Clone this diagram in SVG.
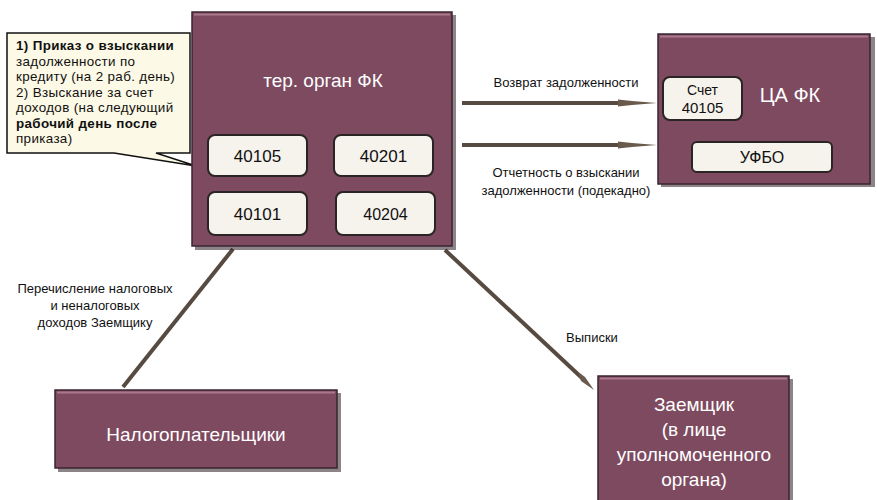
<svg xmlns="http://www.w3.org/2000/svg" width="877" height="500" viewBox="0 0 877 500">
<defs>
<style>
.box{fill:#7e4a5f;stroke:#3a2530;stroke-width:1.5}
.hl{fill:none;stroke:#a9788b;stroke-width:2}
.sh{fill:#2e1f25;opacity:0.55}
.inner{fill:#f6f3ec;stroke:#2a2424;stroke-width:2}
.wt{font-family:"Liberation Sans",Arial,sans-serif;fill:#ffffff;text-anchor:middle}
.bt{font-family:"Liberation Sans",Arial,sans-serif;fill:#111111;text-anchor:middle}
.lbl{font-family:"Liberation Sans",Arial,sans-serif;fill:#111111;font-size:13px;text-anchor:middle}
.ct{font-family:"Liberation Sans",Arial,sans-serif;fill:#111111;font-size:13.4px;letter-spacing:0.35px}
.conn{stroke:#574a40;stroke-width:4;fill:none}
</style>
</defs>

<g id="connectors">
<line class="conn" x1="462" y1="103" x2="622" y2="103"/>
<path d="M618,99.5 L632,101 L657,103 L632,105 L618,106.5 Z" fill="#6a5a4c"/>
<line class="conn" x1="462" y1="145" x2="622" y2="145"/>
<path d="M618,141.5 L632,143 L657,145 L632,147 L618,148.5 Z" fill="#6a5a4c"/>
<line class="conn" x1="123" y1="387" x2="233" y2="249"/>
<line class="conn" x1="445" y1="250" x2="582" y2="378"/>
<path d="M578,372 L585,377 L594,390 L581,381 Z" fill="#6a5a4c"/>
<text class="lbl" x="566" y="87">Возврат задолженности</text>
<text class="lbl" x="566" y="177">Отчетность о взыскании</text>
<text class="lbl" x="566" y="195">задолженности (подекадно)</text>
<text class="lbl" x="95" y="293">Перечисление налоговых</text>
<text class="lbl" x="95" y="310">и неналоговых</text>
<text class="lbl" x="95" y="327">доходов Заемщику</text>
<text class="lbl" x="592" y="342">Выписки</text>
</g>

<g id="callout">
<path d="M7,33 L190,33 L190,153 L156,153 L196,166 L114,153 L7,153 Z" fill="#fcf9e6" stroke="#111111" stroke-width="1.5"/>
<text class="ct" x="16" y="50" font-weight="bold">1) Приказ о взыскании</text>
<text class="ct" x="16" y="65.5">задолженности по</text>
<text class="ct" x="16" y="81">кредиту (на 2 раб. день)</text>
<text class="ct" x="16" y="96.5">2) Взыскание за счет</text>
<text class="ct" x="16" y="112">доходов (на следующий</text>
<text class="ct" x="16" y="127.5" font-weight="bold">рабочий день после</text>
<text class="ct" x="16" y="143">приказа)</text>
</g>

<g id="ter-organ">
<rect class="sh" x="195" y="15" width="261" height="235"/>
<rect class="box" x="192" y="12" width="260" height="234"/>
<line class="hl" x1="194" y1="14.5" x2="450" y2="14.5"/>
<text class="wt" x="323" y="87" font-size="19">тер. орган ФК</text>
<g id="acc-40105"><rect class="inner" x="208" y="135" width="99" height="41" rx="7"/><text class="bt" x="257.5" y="162" font-size="17">40105</text></g>
<g id="acc-40201"><rect class="inner" x="334" y="135" width="99" height="41" rx="7"/><text class="bt" x="383.5" y="162" font-size="17">40201</text></g>
<g id="acc-40101"><rect class="inner" x="208" y="192" width="99" height="43" rx="7"/><text class="bt" x="257.5" y="220" font-size="17">40101</text></g>
<g id="acc-40204"><rect class="inner" x="336" y="192" width="99" height="43" rx="7"/><text class="bt" x="385.5" y="220" font-size="16">40204</text></g>
</g>

<g id="ca-fk">
<rect class="sh" x="661" y="37" width="214" height="150"/>
<rect class="box" x="658" y="34" width="212" height="150"/>
<line class="hl" x1="660" y1="36.5" x2="868" y2="36.5"/>
<text class="wt" x="790" y="102" font-size="20">ЦА ФК</text>
<g id="ca-40105"><rect class="inner" x="663" y="77" width="79" height="43" rx="7"/><text class="bt" x="702.5" y="95" font-size="14">Счет</text><text class="bt" x="702.5" y="113" font-size="15">40105</text></g>
<g id="ufbo"><rect class="inner" x="692" y="142" width="140" height="30" rx="5"/><text class="bt" x="762" y="163" font-size="16">УФБО</text></g>
</g>

<g id="nalog">
<rect class="sh" x="58" y="393" width="283" height="79"/>
<rect class="box" x="55" y="390" width="282" height="78"/>
<line class="hl" x1="57" y1="392.5" x2="335" y2="392.5"/>
<text class="wt" x="196" y="441" font-size="19">Налогоплательщики</text>
</g>

<g id="zaemshik">
<rect class="sh" x="601" y="379" width="192" height="124"/>
<rect class="box" x="598" y="376" width="191" height="126"/>
<line class="hl" x1="600" y1="378.5" x2="787" y2="378.5"/>
<text class="wt" x="694" y="411" font-size="19">Заемщик</text>
<text class="wt" x="694" y="436" font-size="19">(в лице</text>
<text class="wt" x="694" y="461" font-size="19">уполномоченного</text>
<text class="wt" x="694" y="486" font-size="19">органа)</text>
</g>
</svg>
